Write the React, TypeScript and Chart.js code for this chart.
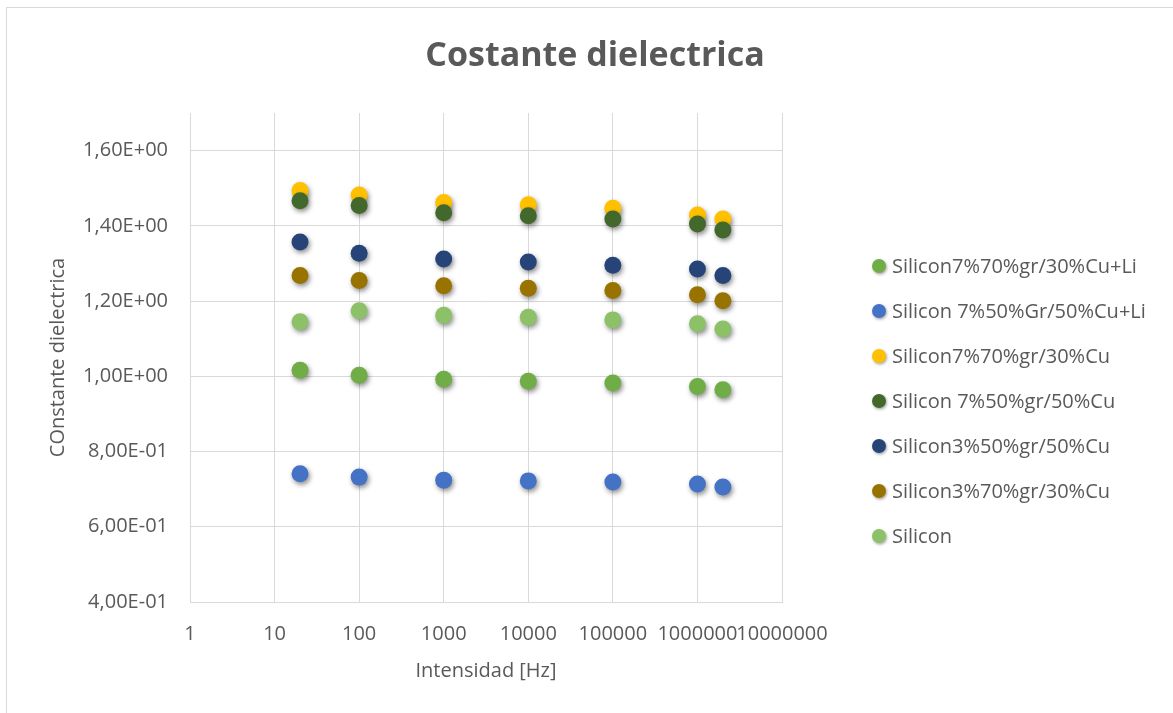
import React, { useEffect, useRef } from "react";
import { Chart, registerables } from "chart.js";

Chart.register(...registerables);

// Frequencies (Hz) at which every sample was measured
const frequencies = [20, 100, 1000, 10000, 100000, 1000000, 2000000];

// Dielectric constant for each sample
const si7gr70cu30Li = [1.016, 1.003, 0.992, 0.987, 0.982, 0.973, 0.964];
const si7Gr50cu50Li = [0.741, 0.732, 0.724, 0.722, 0.719, 0.714, 0.706];
const si7gr70cu30 = [1.494, 1.482, 1.462, 1.456, 1.447, 1.429, 1.418];
const si7gr50cu50 = [1.467, 1.454, 1.435, 1.427, 1.418, 1.405, 1.389];
const si3gr50cu50 = [1.357, 1.327, 1.312, 1.304, 1.295, 1.285, 1.268];
const si3gr70cu30 = [1.268, 1.255, 1.241, 1.234, 1.228, 1.217, 1.201];
const silicon = [1.145, 1.174, 1.162, 1.157, 1.15, 1.14, 1.126];

const seriesNames = [
  "Silicon7%70%gr/30%Cu+Li",
  "Silicon 7%50%Gr/50%Cu+Li",
  "Silicon7%70%gr/30%Cu",
  "Silicon 7%50%gr/50%Cu",
  "Silicon3%50%gr/50%Cu",
  "Silicon3%70%gr/30%Cu",
  "Silicon",
];
const seriesValues = [
  si7gr70cu30Li,
  si7Gr50cu50Li,
  si7gr70cu30,
  si7gr50cu50,
  si3gr50cu50,
  si3gr70cu30,
  silicon,
];
const seriesColors = [
  "#70AD47",
  "#4472C4",
  "#FFC000",
  "#43682B",
  "#264478",
  "#997300",
  "#8CC168",
];

// Decade ticks of the frequency axis
const xTicks = [1, 10, 100, 1000, 10000, 100000, 1000000, 10000000];

const chartTitle = "Costante dielectrica";
const xTitle = "Intensidad [Hz]";
const yTitle = "COnstante dielectrica";

const FONT = "'Open Sans', sans-serif";
const TEXT = "#595959";
const GRID = "#d9d9d9";

// Excel-style scientific notation: 1,60E+00
function sci(v: number): string {
  const [m, e] = v.toExponential(2).split("e");
  const n = parseInt(e, 10);
  return m.replace(".", ",") + "E" + (n < 0 ? "-" : "+") + String(Math.abs(n)).padStart(2, "0");
}

const framePlugin = {
  id: "frame",
  beforeDraw(chart: any) {
    const { ctx, width, height } = chart;
    ctx.save();
    ctx.fillStyle = "#ffffff";
    ctx.fillRect(0, 0, width, height);
    ctx.strokeStyle = GRID;
    ctx.lineWidth = 1;
    ctx.strokeRect(6.5, 7.5, width + 20, height + 20);
    ctx.restore();
  },
  afterDraw(chart: any) {
    const { ctx } = chart;
    ctx.save();
    // title
    ctx.fillStyle = TEXT;
    ctx.font = `bold 34px ${FONT}`;
    ctx.textAlign = "center";
    ctx.textBaseline = "middle";
    ctx.fillText(chartTitle, 595, 56);

    // legend
    ctx.font = `20px ${FONT}`;
    ctx.textAlign = "left";
    chart.data.datasets.forEach((ds: any, i: number) => {
      const y = 266 + i * 45;
      ctx.save();
      ctx.shadowColor = "rgba(0,0,0,0.35)";
      ctx.shadowBlur = 3;
      ctx.shadowOffsetX = 1;
      ctx.shadowOffsetY = 1.5;
      ctx.beginPath();
      ctx.arc(879, y, 7, 0, Math.PI * 2);
      ctx.fillStyle = ds.backgroundColor;
      ctx.fill();
      ctx.restore();
      ctx.fillStyle = TEXT;
      ctx.fillText(ds.label, 892, y + 1);
    });
    ctx.restore();
  },
};

const markerShadow = {
  id: "markerShadow",
  beforeDatasetsDraw(chart: any) {
    const c = chart.ctx;
    c.save();
    c.shadowColor = "rgba(0,0,0,0.45)";
    c.shadowBlur = 5;
    c.shadowOffsetX = 1.5;
    c.shadowOffsetY = 2.5;
  },
  afterDatasetsDraw(chart: any) {
    chart.ctx.restore();
  },
};

export default function App() {
  const canvasRef = useRef<HTMLCanvasElement | null>(null);

  useEffect(() => {
    let chart: Chart | null = null;
    let cancelled = false;

    const build = () => {
      if (cancelled || !canvasRef.current) return;
      chart = new Chart(canvasRef.current, {
        type: "scatter",
        data: {
          datasets: seriesNames.map((name, i) => ({
            label: name,
            data: frequencies.map((f, j) => ({ x: f, y: seriesValues[i][j] })),
            backgroundColor: seriesColors[i],
            borderColor: seriesColors[i],
            borderWidth: 0,
            pointRadius: 8.5,
            pointHoverRadius: 8.5,
            order: seriesNames.length - i,
            clip: false as any,
          })),
        },
        options: {
          responsive: false,
          animation: false,
          layout: { padding: { top: 113, right: 391, bottom: 0, left: 0 } },
          plugins: {
            legend: { display: false },
            title: { display: false },
            tooltip: { enabled: false },
          },
          scales: {
            x: {
              type: "logarithmic",
              min: 1,
              max: 10000000,
              afterBuildTicks: (scale: any) => {
                scale.ticks = xTicks.map((v) => ({ value: v }));
              },
              afterFit: (scale: any) => {
                scale.height = 111;
              },
              grid: { color: GRID, lineWidth: 1, drawTicks: false },
              border: { color: GRID },
              ticks: {
                autoSkip: false,
                maxRotation: 0,
                minRotation: 0,
                padding: 20,
                color: TEXT,
                font: { family: FONT, size: 20 },
                callback: (v: any) => String(Math.round(Number(v))),
              },
              title: {
                display: true,
                text: xTitle,
                color: TEXT,
                font: { family: FONT, size: 20 },
                padding: { top: 0, bottom: 30 },
              },
            },
            y: {
              type: "linear",
              min: 0.4,
              max: 1.7,
              afterFit: (scale: any) => {
                scale.width = 190;
              },
              grid: { color: GRID, lineWidth: 1, drawTicks: false },
              border: { color: GRID },
              ticks: {
                stepSize: 0.2,
                includeBounds: false,
                padding: 22,
                color: TEXT,
                font: { family: FONT, size: 20 },
                callback: (v: any) => sci(Number(v)),
              },
              title: {
                display: true,
                text: yTitle,
                color: TEXT,
                font: { family: FONT, size: 20 },
                padding: { top: 46, bottom: 0 },
              },
            },
          },
        },
        plugins: [framePlugin, markerShadow],
      });
    };

    const fontsReady = (document as any).fonts
      ? Promise.all([
          (document as any).fonts.load(`20px "Open Sans"`),
          (document as any).fonts.load(`bold 34px "Open Sans"`),
        ]).catch(() => null)
      : Promise.resolve(null);
    fontsReady.then(build);

    return () => {
      cancelled = true;
      if (chart) chart.destroy();
    };
  }, []);

  return (
    <div style={{ position: "fixed", left: 0, top: 0, width: 1173, height: 713 }}>
      <canvas ref={canvasRef} width={1173} height={713} />
    </div>
  );
}
